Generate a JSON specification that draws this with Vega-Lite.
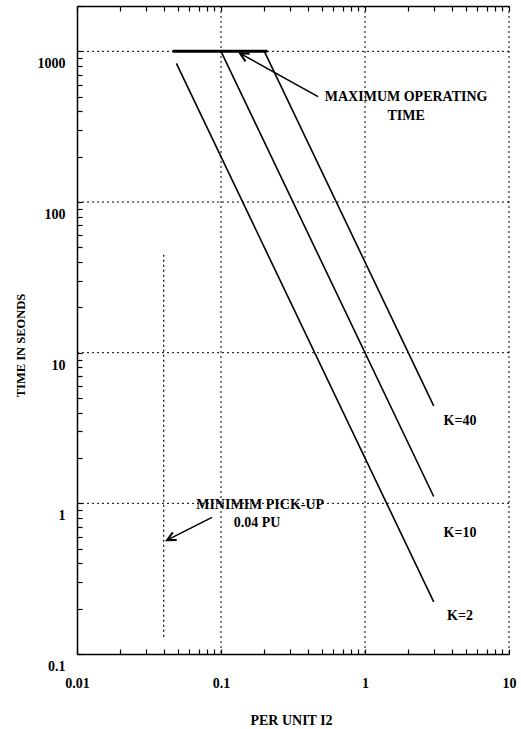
{
  "$schema": "https://vega.github.io/schema/vega-lite/v6.json",
  "width": 432,
  "height": 648,
  "autosize": "none",
  "padding": {"left": 77, "top": 6, "right": 12, "bottom": 75},
  "config": {
    "view": {"stroke": null},
    "font": "Liberation Serif",
    "axis": {
      "domainColor": "black", "domainWidth": 1.5, "tickColor": "black", "tickWidth": 1.2,
      "labelColor": "black", "titleColor": "black", "labelFont": "Liberation Serif",
      "titleFont": "Liberation Serif", "labelFontSize": 14, "titleFontSize": 14, "labelFontWeight": "bold",
      "titleFontWeight": "bold", "grid": false, "labelOverlap": false, "labelFlush": false, "labelBound": false
    }
  },
  "datasets": {
    "gridx": [{"x": 0.1}, {"x": 1}, {"x": 10}],
    "gridy": [{"y": 1}, {"y": 10}, {"y": 100}, {"y": 1000}],
    "curves": [
      {"K": "K=2", "x": 0.049, "y": 833},
      {"K": "K=2", "x": 3, "y": 0.222},
      {"K": "K=10", "x": 0.1, "y": 1000},
      {"K": "K=10", "x": 3, "y": 1.11},
      {"K": "K=40", "x": 0.2, "y": 1000},
      {"K": "K=40", "x": 3, "y": 4.44}
    ],
    "maxop": [{"x": 0.046, "x2": 0.21, "y": 1000}],
    "pickup": [{"x": 0.04, "y": 0.13, "y2": 45}],
    "arrow1": [{"x": 0.472, "y": 501, "x2": 0.1355, "y2": 970}],
    "arrow2": [{"x": 0.0866, "y": 0.807, "x2": 0.0422, "y2": 0.57}],
    "labels": [
      {"x": 1.93, "y": 501, "text": "MAXIMUM OPERATING"},
      {"x": 1.93, "y": 374, "text": "TIME"},
      {"x": 0.187, "y": 0.97, "text": "MINIMIM PICK-UP"},
      {"x": 0.178, "y": 0.736, "text": "0.04 PU"},
      {"x": 4.57, "y": 3.52, "text": "K=40"},
      {"x": 4.57, "y": 0.631, "text": "K=10"},
      {"x": 4.57, "y": 0.179, "text": "K=2"}
    ]
  },
  "resolve": {"axis": {"x": "independent", "y": "independent"}},
  "layer": [
    {
      "data": {"name": "gridx"},
      "mark": {"type": "rule", "color": "black", "strokeWidth": 1, "strokeDash": [2, 3]},
      "encoding": {
        "x": {"field": "x", "type": "quantitative", "scale": {"type": "log", "domain": [0.01, 10], "nice": false},
          "axis": {
            "orient": "bottom", "title": "PER UNIT I2", "titleX": 214, "titleY": 66, "titleBaseline": "middle", "titleAlign": "center", "titleFontSize": 14,
            "values": [0.01,0.02,0.03,0.04,0.05,0.06,0.07,0.08,0.09,0.1,0.2,0.3,0.4,0.5,0.6,0.7,0.8,0.9,1,2,3,4,5,6,7,8,9,10],
            "labelExpr": "indexof([0.01,0.1,1,10], datum.value) >= 0 ? format(datum.value, '~g') : ''",
            "tickSize": -5, "labelPadding": 27, "labelBaseline": "top"
          }
        }
      }
    },
    {
      "data": {"name": "gridy"},
      "mark": {"type": "rule", "color": "black", "strokeWidth": 1, "strokeDash": [2, 3]},
      "encoding": {
        "y": {"field": "y", "type": "quantitative", "scale": {"type": "log", "domain": [0.1, 2000], "nice": false},
          "axis": {
            "orient": "left", "title": "TIME IN SEONDS", "titleX": -57, "titleY": 339, "titleBaseline": "middle", "titleAlign": "center", "titleAngle": -90, "titleFontSize": 12.5,
            "values": [0.1,0.2,0.3,0.4,0.5,0.6,0.7,0.8,0.9,1,2,3,4,5,6,7,8,9,10,20,30,40,50,60,70,80,90,100,200,300,400,500,600,700,800,900,1000,2000],
            "labelExpr": "indexof([0.1,1,10,100,1000], datum.value) >= 0 ? format(datum.value, '~g') : ''",
            "tickSize": -5, "labelPadding": 17, "labelOffset": 12.5, "labelBaseline": "middle"
          }
        }
      }
    },
    {
      "data": {"name": "maxop"},
      "mark": {"type": "rule", "color": "black", "strokeWidth": 3},
      "encoding": {
        "x": {"field": "x", "type": "quantitative", "scale": {"type": "log", "domain": [0.01, 10], "nice": false},
          "axis": {
            "orient": "top", "title": null, "labels": false,
            "values": [0.01,0.02,0.03,0.04,0.05,0.06,0.07,0.08,0.09,0.1,0.2,0.3,0.4,0.5,0.6,0.7,0.8,0.9,1,2,3,4,5,6,7,8,9,10],
            "tickSize": -5
          }
        },
        "x2": {"field": "x2"},
        "y": {"field": "y", "type": "quantitative", "scale": {"type": "log", "domain": [0.1, 2000], "nice": false}, "axis": null}
      }
    },
    {
      "data": {"name": "curves"},
      "mark": {"type": "line", "color": "black", "strokeWidth": 1.6},
      "encoding": {
        "x": {"field": "x", "type": "quantitative", "scale": {"type": "log", "domain": [0.01, 10], "nice": false}, "axis": null},
        "y": {"field": "y", "type": "quantitative", "scale": {"type": "log", "domain": [0.1, 2000], "nice": false}, "axis": null},
        "detail": {"field": "K"}
      }
    },
    {
      "data": {"name": "pickup"},
      "mark": {"type": "rule", "color": "black", "strokeWidth": 1.2, "strokeDash": [2, 3]},
      "encoding": {
        "x": {"field": "x", "type": "quantitative", "scale": {"type": "log", "domain": [0.01, 10], "nice": false}, "axis": null},
        "y": {"field": "y", "type": "quantitative", "scale": {"type": "log", "domain": [0.1, 2000], "nice": false}, "axis": null},
        "y2": {"field": "y2"}
      }
    },
    {
      "data": {"name": "arrow1"},
      "mark": {"type": "rule", "color": "black", "strokeWidth": 1.5},
      "encoding": {
        "x": {"field": "x", "type": "quantitative", "scale": {"type": "log", "domain": [0.01, 10], "nice": false}, "axis": null},
        "y": {"field": "y", "type": "quantitative", "scale": {"type": "log", "domain": [0.1, 2000], "nice": false}, "axis": null},
        "x2": {"field": "x2"},
        "y2": {"field": "y2"}
      }
    },
    {
      "data": {"name": "arrow1"},
      "mark": {"type": "point", "shape": "M-1,-0.5L0,0L-1,0.5", "filled": false, "stroke": "black", "strokeWidth": 2, "size": 300, "angle": 209, "opacity": 1},
      "encoding": {
        "x": {"field": "x2", "type": "quantitative", "scale": {"type": "log", "domain": [0.01, 10], "nice": false}, "axis": null},
        "y": {"field": "y2", "type": "quantitative", "scale": {"type": "log", "domain": [0.1, 2000], "nice": false}, "axis": null}
      }
    },
    {
      "data": {"name": "arrow2"},
      "mark": {"type": "rule", "color": "black", "strokeWidth": 1.5},
      "encoding": {
        "x": {"field": "x", "type": "quantitative", "scale": {"type": "log", "domain": [0.01, 10], "nice": false}, "axis": null},
        "y": {"field": "y", "type": "quantitative", "scale": {"type": "log", "domain": [0.1, 2000], "nice": false}, "axis": null},
        "x2": {"field": "x2"},
        "y2": {"field": "y2"}
      }
    },
    {
      "data": {"name": "arrow2"},
      "mark": {"type": "point", "shape": "M-1,-0.5L0,0L-1,0.5", "filled": false, "stroke": "black", "strokeWidth": 2, "size": 300, "angle": 153, "opacity": 1},
      "encoding": {
        "x": {"field": "x2", "type": "quantitative", "scale": {"type": "log", "domain": [0.01, 10], "nice": false}, "axis": null},
        "y": {"field": "y2", "type": "quantitative", "scale": {"type": "log", "domain": [0.1, 2000], "nice": false}, "axis": null}
      }
    },
    {
      "data": {"name": "labels"},
      "mark": {"type": "text", "font": "Liberation Serif", "fontSize": 14, "fontWeight": "bold", "color": "black", "align": "center", "baseline": "middle"},
      "encoding": {
        "x": {"field": "x", "type": "quantitative", "scale": {"type": "log", "domain": [0.01, 10], "nice": false}, "axis": null},
        "y": {"field": "y", "type": "quantitative", "scale": {"type": "log", "domain": [0.1, 2000], "nice": false}, "axis": null},
        "text": {"field": "text"}
      }
    }
  ]
}
